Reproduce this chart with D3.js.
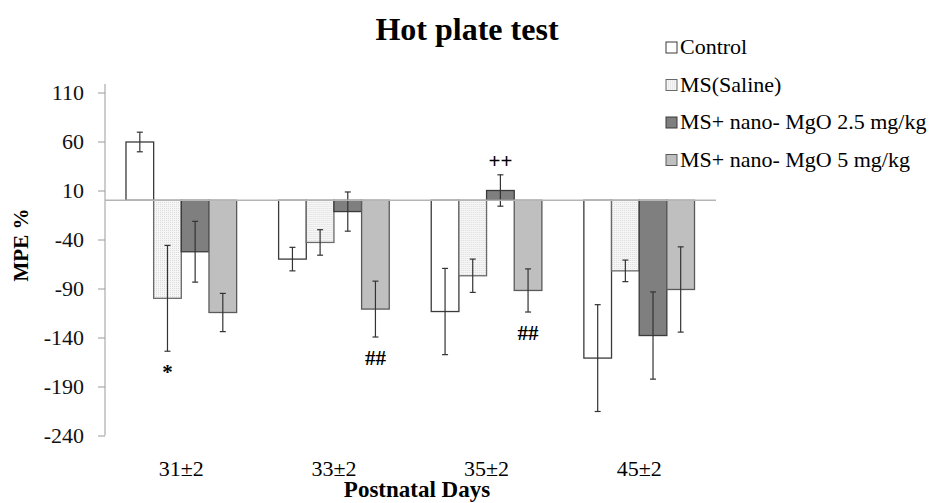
<!DOCTYPE html>
<html>
<head>
<meta charset="utf-8">
<script src="https://cdn.jsdelivr.net/npm/d3@7"></script>
<style>
  body { margin: 0; background: #fff; }
  svg { display: block; font-family: "Liberation Serif", "Times New Roman", serif; }
</style>
</head>
<body>
<div id="chart"></div>
<script>
"use strict";

// data
var categories = ["31±2", "33±2", "35±2", "45±2"];
var seriesNames = ["Control", "MS(Saline)", "MS+ nano- MgO 2.5 mg/kg", "MS+ nano- MgO 5 mg/kg"];
var control    = [59.5, -60, -113.5, -161];
var controlErr = [10, 12, 44, 54.5];
var saline     = [-100, -43, -77, -72];
var salineErr  = [54, 13, 17, 11];
var mgo25      = [-52.5, -11.5, 10, -138];
var mgo25Err   = [31, 20, 16, 44.5];
var mgo5       = [-114.5, -111, -92, -91];
var mgo5Err    = [19.5, 28.5, 22, 43.5];
var yTicks = [110, 60, 10, -40, -90, -140, -190, -240];
// significance marks: category index, series index, text
var marks = [
  {cat: 0, s: 1, text: "*"},
  {cat: 1, s: 3, text: "##"},
  {cat: 2, s: 2, text: "++"},
  {cat: 2, s: 3, text: "##"}
];

var values = [control, saline, mgo25, mgo5];
var errors = [controlErr, salineErr, mgo25Err, mgo5Err];
var fills = ["#ffffff", "url(#dots)", "#7f7f7f", "#bfbfbf"];
var strokes = ["#3a3a3a", "#6a6a6a", "#3a3a3a", "#5a5a5a"];

var width = 932, height = 503;

var svg = d3.select("#chart").append("svg")
  .attr("width", width)
  .attr("height", height);

// dotted fill for the saline bars
var pat = svg.append("defs").append("pattern")
  .attr("id", "dots")
  .attr("width", 2).attr("height", 2)
  .attr("patternUnits", "userSpaceOnUse");
pat.append("rect").attr("width", 2).attr("height", 2).attr("fill", "#f6f6f6");
pat.append("rect").attr("width", 1).attr("height", 1).attr("fill", "#dcdcdc");

// scales
var x0 = d3.scaleBand()
  .domain(categories)
  .range([105, 715.5])
  .paddingInner(0.275)
  .paddingOuter(0.1375);
var x1 = d3.scaleBand()
  .domain(d3.range(seriesNames.length))
  .range([0, x0.bandwidth()]);
var y = d3.scaleLinear()
  .domain([-240, 110])
  .range([435.5, 92.5]);

// title
svg.append("text")
  .attr("x", 467).attr("y", 40)
  .attr("text-anchor", "middle")
  .style("font-size", "32px").style("font-weight", "bold")
  .text("Hot plate test");

// y axis (plain hyphen for negatives, like the original)
var yAxis = svg.append("g")
  .attr("transform", "translate(105,0)")
  .call(d3.axisLeft(y).tickValues(yTicks).tickSize(7).tickPadding(14)
    .tickFormat(function(d) { return String(d); }));
yAxis.select(".domain").attr("stroke", "#9a9a9a").attr("d", "M0,84V435.5");
yAxis.selectAll(".tick line").attr("stroke", "#9a9a9a");
yAxis.selectAll(".tick text")
  .style("font-size", "22px")
  .style("font-family", "Liberation Serif, serif")
  .attr("fill", "#111");

svg.append("text")
  .attr("transform", "translate(28,245) rotate(-90)")
  .attr("text-anchor", "middle")
  .style("font-size", "21px").style("font-weight", "bold")
  .text("MPE %");

// bars
var groups = svg.selectAll(".grp")
  .data(categories)
  .enter().append("g")
  .attr("class", "grp")
  .attr("transform", function(d) { return "translate(" + x0(d) + ",0)"; });

groups.each(function(cat, ci) {
  var g = d3.select(this);
  values.forEach(function(vals, si) {
    var v = vals[ci];
    g.append("rect")
      .attr("x", x1(si))
      .attr("width", x1.bandwidth())
      .attr("y", y(Math.max(0, v)))
      .attr("height", Math.abs(y(v) - y(0)))
      .attr("fill", fills[si])
      .attr("stroke", strokes[si])
      .attr("stroke-width", 1.3);
  });
});

// zero line
svg.append("line")
  .attr("x1", 105).attr("x2", 716)
  .attr("y1", y(0)).attr("y2", y(0))
  .attr("stroke", "#b5b5b5").attr("stroke-width", 1.5);

// error bars
groups.each(function(cat, ci) {
  var g = d3.select(this);
  values.forEach(function(vals, si) {
    var v = vals[ci], e = errors[si][ci];
    var cx = x1(si) + x1.bandwidth() / 2;
    var eb = g.append("g").attr("stroke", "#333").attr("stroke-width", 1.2);
    eb.append("line").attr("x1", cx).attr("x2", cx).attr("y1", y(v + e)).attr("y2", y(v - e));
    eb.append("line").attr("x1", cx - 3).attr("x2", cx + 3).attr("y1", y(v + e)).attr("y2", y(v + e));
    eb.append("line").attr("x1", cx - 3).attr("x2", cx + 3).attr("y1", y(v - e)).attr("y2", y(v - e));
  });
});

// significance marks
marks.forEach(function(m) {
  var v = values[m.s][m.cat], e = errors[m.s][m.cat];
  var cx = x0(categories[m.cat]) + x1(m.s) + x1.bandwidth() / 2;
  var yy = v >= 0 ? y(v + e) - 7 : y(v - e) + 28;
  svg.append("text")
    .attr("x", cx).attr("y", yy)
    .attr("text-anchor", "middle")
    .style("font-size", "21px").style("font-weight", "bold")
    .text(m.text);
});

// category labels
svg.selectAll(".cat")
  .data(categories)
  .enter().append("text")
  .attr("class", "cat")
  .attr("x", function(d) { return x0(d) + x0.bandwidth() / 2; })
  .attr("y", 476)
  .attr("text-anchor", "middle")
  .style("font-size", "22px")
  .text(function(d) { return d; });

svg.append("text")
  .attr("x", 417).attr("y", 497)
  .attr("text-anchor", "middle")
  .style("font-size", "23px").style("font-weight", "bold")
  .text("Postnatal Days");

// legend
var legend = svg.selectAll(".leg")
  .data(seriesNames)
  .enter().append("g")
  .attr("class", "leg")
  .attr("transform", function(d, i) { return "translate(666," + (42 + i * 37.5) + ")"; });
legend.append("rect")
  .attr("width", 11).attr("height", 11)
  .attr("fill", function(d, i) { return fills[i]; })
  .attr("stroke", function(d, i) { return strokes[i]; });
legend.append("text")
  .attr("x", 14).attr("y", 12)
  .style("font-size", "22px")
  .text(function(d) { return d; });
</script>
</body>
</html>
